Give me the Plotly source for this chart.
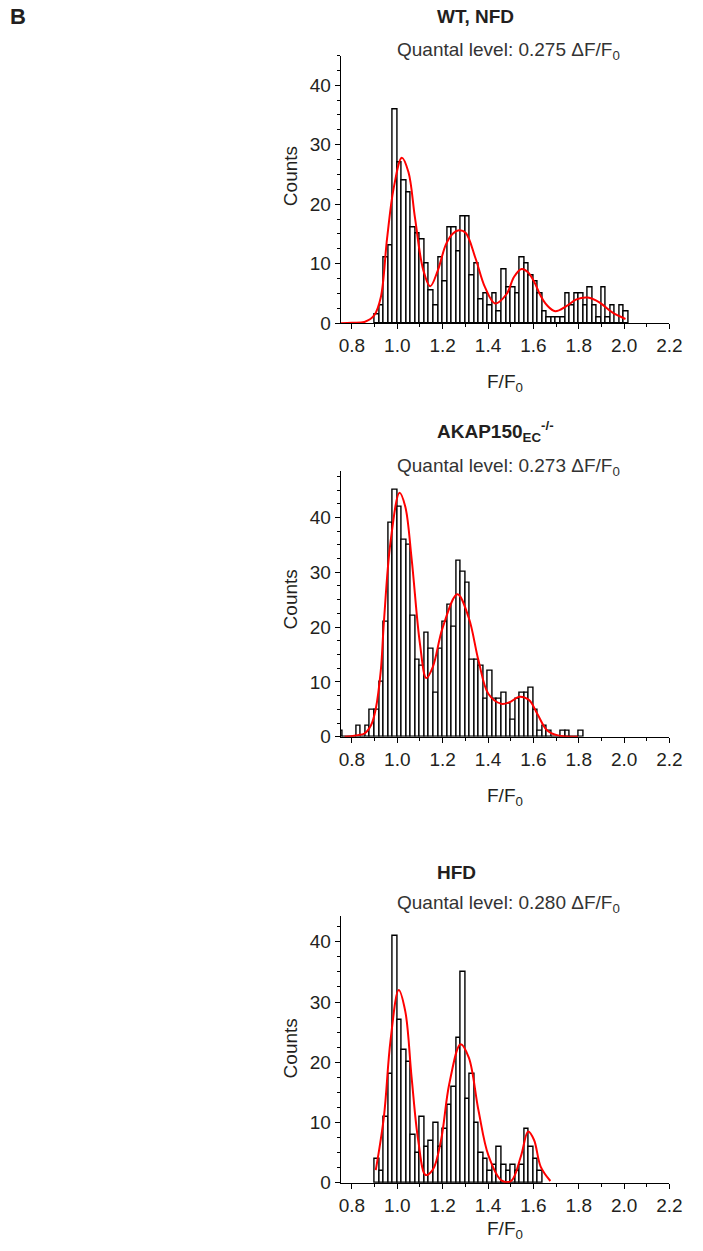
import numpy as np
import plotly.graph_objects as go

BIN_WIDTH = 0.02
FONT = "Liberation Sans, Arial, Helvetica, sans-serif"
TXT = "#231f20"

# ---- WT, NFD ----
wt_first_bin = 0.90
wt_counts = [1.5, 3, 11, 13, 36, 27, 24, 22, 16, 15,
             14, 10, 5.5, 3, 11, 7, 16, 16, 12, 18,
             18, 8, 10, 4, 5, 3, 5, 2, 9, 6,
             6, 5, 11, 10, 8, 7, 5, 2, 1, 1,
             1, 1, 5, 3, 5, 5, 3, 6, 3, 1,
             6, 1, 3, 0, 3, 2]
wt_fit_x = [0.75, 0.80, 0.855, 0.898, 0.927, 0.955, 0.984, 1.02, 1.049, 1.078,
            1.114, 1.145, 1.178, 1.214, 1.243, 1.272, 1.301, 1.344, 1.387, 1.431,
            1.482, 1.515, 1.548, 1.575, 1.603, 1.632, 1.66, 1.696, 1.747, 1.79,
            1.84, 1.891, 1.948, 2.006]
wt_fit_y = [0, 0.05, 0.2, 1.3, 4.3, 14.3, 22.7, 27.8, 25.4, 17.7,
            9, 6.2, 8.8, 13.2, 15, 15.6, 15.2, 11, 6, 3.3,
            4.9, 7.8, 9.1, 8.6, 7.0, 4.6, 3.0, 2.0, 2.9, 4.0,
            4.3, 3.5, 1.8, 0.7]

# ---- AKAP150 EC-/- ----
akap_first_bin = 0.74
akap_counts = [1, 0, 0, 0, 2, 0, 2, 5, 5, 10,
               21, 39, 45, 42, 36, 35, 22, 14, 13, 19,
               16, 8, 16, 21, 24, 20, 32, 30, 28, 14,
               14, 13, 7, 12, 7, 7, 8, 6, 3, 7,
               8, 8, 9, 5, 1, 2, 1, 0, 0, 1,
               1, 0, 0, 1]
akap_fit_x = [0.768, 0.827, 0.855, 0.884, 0.905, 0.927, 0.941, 0.97, 1.010, 1.035,
              1.063, 1.1, 1.128, 1.157, 1.2, 1.265, 1.315, 1.358, 1.402, 1.459,
              1.495, 1.538, 1.581, 1.617, 1.66, 1.704, 1.796]
akap_fit_y = [0, 0.3, 0.6, 2.1, 5.1, 12, 21, 35.5, 44.5, 42,
              32.5, 16.9, 10.7, 12.8, 19.9, 26, 21.7, 13.9, 7.8, 6,
              6.3, 7.3, 6.7, 4.2, 1.2, 0.3, 0]

# ---- HFD ----
hfd_first_bin = 0.90
hfd_counts = [4, 2, 11, 18, 41, 27, 22, 20, 8, 5,
              11, 6, 7, 10, 6, 9, 13, 16, 24, 35,
              14, 18, 10, 5, 4, 2, 3, 6, 3, 2,
              3, 2, 3, 9, 6, 4, 2]
hfd_fit_x = [0.905, 0.941, 0.970, 1.006, 1.035, 1.063, 1.092, 1.125, 1.157, 1.193,
             1.229, 1.279, 1.315, 1.358, 1.402, 1.459, 1.502, 1.545, 1.577, 1.603,
             1.632, 1.675]
hfd_fit_y = [2.1, 11, 23.6, 32, 28.5, 17.5, 7.1, 1.3, 2.2, 7.1,
             16.4, 23, 20.8, 12, 4.5, 0.4, 0.3, 4.4, 8.5, 7.1,
             2.7, 0.3]

x_ticks = [0.8, 1.0, 1.2, 1.4, 1.6, 1.8, 2.0, 2.2]
x_ticktext = ["0.8", "1.0", "1.2", "1.4", "1.6", "1.8", "2.0", "2.2"]
y_ticks = [0, 10, 20, 30, 40]

panels = [
    dict(first=wt_first_bin, counts=wt_counts, fx=wt_fit_x, fy=wt_fit_y,
         ytop=45, px_top=56, px_bottom=326,
         title="<b>WT, NFD</b>", title_y=17,
         quantal="Quantal level: 0.275 ΔF/F<sub>0</sub>", quantal_y=51,
         counts_y=178, xlabel_y=386),
    dict(first=akap_first_bin, counts=akap_counts, fx=akap_fit_x, fy=akap_fit_y,
         ytop=48.5, px_top=475, px_bottom=743.3,
         title="<b>AKAP150<sub>EC</sub><sup>-/-</sup></b>", title_y=435,
         quantal="Quantal level: 0.273 ΔF/F<sub>0</sub>", quantal_y=471,
         counts_y=605, xlabel_y=804),
    dict(first=hfd_first_bin, counts=hfd_counts, fx=hfd_fit_x, fy=hfd_fit_y,
         ytop=44.3, px_top=924, px_bottom=1193.3,
         title="<b>HFD</b>", title_y=880,
         quantal="Quantal level: 0.280 ΔF/F<sub>0</sub>", quantal_y=912,
         counts_y=1058, xlabel_y=1241),
]

W, H = 703, 1251
X_LEFT, X_RIGHT = 346, 682

fig = go.Figure()
annotations = []
layout_axes = {}

for i, p in enumerate(panels, start=1):
    sfx = "" if i == 1 else str(i)
    xa, ya = "x" + sfx, "y" + sfx
    edges = np.round(p["first"] + BIN_WIDTH * np.arange(len(p["counts"])), 2)
    centers = edges + BIN_WIDTH / 2

    fig.add_trace(go.Bar(
        x=centers, y=p["counts"], width=BIN_WIDTH,
        marker=dict(color="white", line=dict(color="black", width=1.4)),
        xaxis=xa, yaxis=ya, showlegend=False, hoverinfo="skip"))
    fig.add_trace(go.Scatter(
        x=p["fx"], y=p["fy"], mode="lines",
        line=dict(color="#ff0000", width=2, shape="spline", smoothing=1),
        xaxis=xa, yaxis=ya, showlegend=False, hoverinfo="skip"))

    ydom = [1 - p["px_bottom"] / H, 1 - p["px_top"] / H]
    layout_axes["xaxis" + sfx] = dict(
        domain=[X_LEFT / W, X_RIGHT / W], range=[0.75, 2.2], anchor=ya,
        showline=True, linecolor="black", linewidth=1,
        showgrid=False, zeroline=False,
        ticks="outside", ticklen=5, tickwidth=1, tickcolor="black",
        tickmode="array", tickvals=x_ticks, ticktext=x_ticktext,
        tickfont=dict(family=FONT, size=19, color=TXT),
        minor=dict(ticks="outside", ticklen=3, tickwidth=1, tickcolor="black",
                   tick0=0.9, dtick=0.1, showgrid=False),
        fixedrange=True)
    layout_axes["yaxis" + sfx] = dict(
        domain=ydom, range=[0, p["ytop"]], anchor=xa,
        showline=True, linecolor="black", linewidth=1,
        showgrid=False, zeroline=False,
        ticks="outside", ticklen=5, tickwidth=1, tickcolor="black",
        tickmode="array", tickvals=y_ticks,
        tickfont=dict(family=FONT, size=19, color=TXT),
        minor=dict(ticks="outside", ticklen=3, tickwidth=1, tickcolor="black",
                   tick0=0, dtick=2.5, showgrid=False),
        fixedrange=True)

    annotations += [
        dict(text=p["title"], x=442 / W, y=1 - p["title_y"] / H,
             xref="paper", yref="paper", xanchor="left", yanchor="middle",
             showarrow=False, font=dict(family=FONT, size=19, color=TXT)),
        dict(text=p["quantal"], x=401.5 / W, y=1 - p["quantal_y"] / H,
             xref="paper", yref="paper", xanchor="left", yanchor="middle",
             showarrow=False, font=dict(family=FONT, size=19, color="#333333")),
        dict(text="Counts", x=295 / W, y=1 - p["counts_y"] / H, textangle=-90,
             xref="paper", yref="paper", xanchor="center", yanchor="middle",
             showarrow=False, font=dict(family=FONT, size=19, color=TXT)),
        dict(text="F/F<sub>0</sub>", x=514 / W, y=1 - p["xlabel_y"] / H,
             xref="paper", yref="paper", xanchor="center", yanchor="middle",
             showarrow=False, font=dict(family=FONT, size=19, color=TXT)),
    ]

annotations.append(dict(text="<b>B</b>", x=16 / W, y=1 - 17 / H,
                        xref="paper", yref="paper", xanchor="center", yanchor="middle",
                        showarrow=False, font=dict(family=FONT, size=22, color=TXT)))

fig.update_layout(
    width=W, height=H, margin=dict(l=0, r=0, t=0, b=0),
    paper_bgcolor="white", plot_bgcolor="white",
    bargap=0, barmode="overlay",
    annotations=annotations,
    **layout_axes)

fig.write_html("out.html", config={"displayModeBar": False})
